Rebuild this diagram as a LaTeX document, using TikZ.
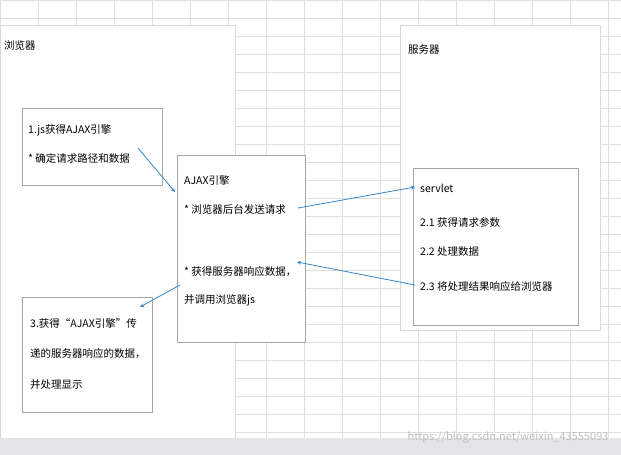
\documentclass[tikz,border=0pt]{standalone}
\usepackage{fontspec}
\setmainfont{Noto Sans CJK SC}
\begin{document}
\begin{tikzpicture}[x=1pt,y=-1pt,
    panel/.style={draw=gray!30, fill=white},
    stepbox/.style={draw=gray!70, fill=white, line width=0.8pt},
    txt/.style={anchor=west, align=left, font=\fontsize{10.5}{13}\selectfont, inner sep=0pt},
    link/.style={->, >=stealth, draw=blue!45!cyan!60!gray, line width=0.8pt}]
  \useasboundingbox (0,0) rectangle (621,455);
  \fill[white] (0,0) rectangle (621,455);
  % grid behind the panels
  \foreach \i in {0,...,16}{
      \draw[gray!25] (38*\i, 0) -- (38*\i, 440);
    }
  \foreach \j in {0,...,24}{
      \draw[gray!25] (0, 18*\j) -- (621, 18*\j);
    }
  \draw[panel] (0, 25) rectangle (235, 438);
  \draw[panel] (400, 25) rectangle (600, 330);
  \fill[blue!8!gray!20] (0, 438) rectangle (621, 455);
  \node[txt] (browser) at (4, 46) {浏览器};
  \node[txt] (server) at (408, 50) {服务器};
  % the four boxes
  \draw[stepbox] (22, 108) rectangle (162, 185);
  \node[txt] (engine) at (28, 130) {1.js获得AJAX引擎};
  \node[txt] (route) at (28, 158) {* 确定请求路径和数据};
  \draw[stepbox] (177, 155) rectangle (305, 342);
  \node[txt] (ajax) at (184, 180) {AJAX引擎};
  \node[txt] (send) at (184, 210) {* 浏览器后台发送请求};
  \node[txt] (reply) at (184, 272) {* 获得服务器响应数据，};
  \node[txt] (call) at (184, 300) {并调用浏览器js};
  \draw[stepbox] (413, 168) rectangle (578, 325);
  \node[txt] (servlet) at (420, 188) {servlet};
  \node[txt] (param) at (420, 222) {2.1 获得请求参数};
  \node[txt] (data) at (420, 252) {2.2 处理数据};
  \node[txt] (resp) at (420, 287) {2.3 将处理结果响应给浏览器};
  \draw[stepbox] (22, 297) rectangle (152, 412);
  \node[txt] (show) at (30, 323) {3.获得“AJAX引擎”传};
  \node[txt] (pass) at (30, 354) {递的服务器响应的数据，};
  \node[txt] (disp) at (30, 385) {并处理显示};
  % connectors
  \coordinate (a1) at (138, 148); \coordinate (a2) at (175, 192);
  \coordinate (b1) at (298, 208); \coordinate (b2) at (415, 187);
  \coordinate (c1) at (415, 285); \coordinate (c2) at (297, 262);
  \coordinate (d1) at (180, 285); \coordinate (d2) at (140, 307);
  \draw[link] (a1) -- (a2);
  \draw[link] (b1) -- (b2);
  \draw[link] (c1) -- (c2);
  \draw[link] (d1) -- (d2);
  \node[anchor=east, text=gray!50, font=\fontsize{11}{12}\selectfont] (mark) at (612, 437) {https://blog.csdn.net/weixin\_43555093};
\end{tikzpicture}
\end{document}
